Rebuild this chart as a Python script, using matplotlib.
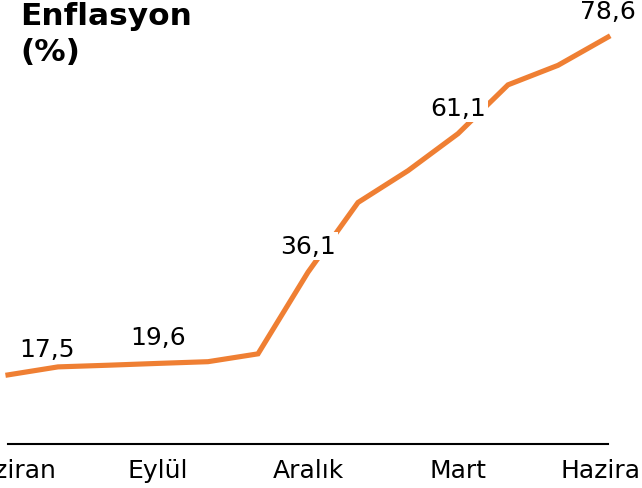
import matplotlib.pyplot as plt

# Enflasyon, Haziran 2021 - Haziran 2022 (aylık, %)
months = ['Haziran', 'Temmuz', 'Ağustos', 'Eylül', 'Ekim', 'Kasım', 'Aralık',
          'Ocak', 'Şubat', 'Mart', 'Nisan', 'Mayıs', 'Haziran']
inflation = [17.5, 18.95, 19.25, 19.58, 19.89, 21.31, 36.08,
             48.69, 54.44, 61.14, 69.97, 73.5, 78.62]

tick_idx = [0, 3, 6, 9, 12]
label_idx = [0, 3, 6, 9, 12]
label_text = ['17,5', '19,6', '36,1', '61,1', '78,6']

plt.rcParams['font.family'] = ['DejaVu Sans']

fig = plt.figure(figsize=(6.42, 4.89), dpi=100)
ax = fig.add_axes([8/642, 1 - 445/489, 600/642, 445/489])

x = list(range(len(inflation)))
ax.plot(x, inflation, color='#EF7F33', lw=3.7, solid_joinstyle='miter', clip_on=False)

ax.set_xlim(0, 12)
ax.set_ylim(5, 85.5)

for sp in ['top', 'right', 'left']:
    ax.spines[sp].set_visible(False)
ax.spines['bottom'].set_linewidth(1.5)
ax.set_yticks([])
ax.set_xticks(tick_idx)
ax.set_xticklabels([months[i] for i in tick_idx], fontsize=18)
ax.tick_params(axis='x', length=0, pad=10)

for i, t in zip(label_idx, label_text):
    dx = 39 if i == 0 else 0
    ax.annotate(t, (i, inflation[i]), xytext=(dx, 26), textcoords='offset pixels',
                ha='center', va='center', fontsize=18, color='black',
                annotation_clip=False,
                bbox=dict(boxstyle='square,pad=0.08', fc='white', ec='none'))

fig.text(20/642, 1 - 2/489, 'Enflasyon\n(%)', fontsize=22.5, fontweight='bold',
         ha='left', va='top', linespacing=1.3)

fig.savefig('out.png', dpi=100)
